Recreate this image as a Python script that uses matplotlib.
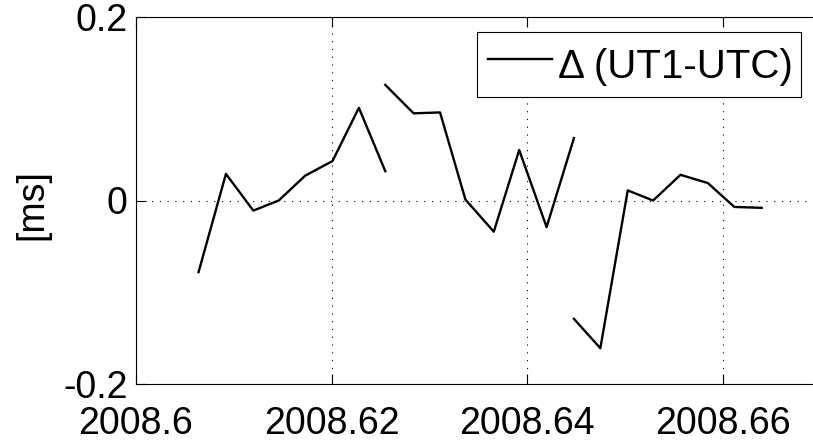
import matplotlib
matplotlib.use("Agg")
import matplotlib.pyplot as plt
from matplotlib.legend_handler import HandlerLine2D

# Data (decimal year, ms), three separate solution segments
seg1_x = [2008.6064, 2008.6092, 2008.6120, 2008.6146, 2008.6173, 2008.6201, 2008.6228, 2008.6255]
seg1_y = [-0.078, 0.029, -0.011, 0.000, 0.027, 0.043, 0.101, 0.032]
seg2_x = [2008.6255, 2008.6284, 2008.6311, 2008.6337, 2008.6366, 2008.6392, 2008.6420, 2008.6448]
seg2_y = [0.126, 0.095, 0.096, 0.001, -0.034, 0.055, -0.029, 0.068]
seg3_x = [2008.6448, 2008.6475, 2008.6503, 2008.6529, 2008.6557, 2008.6585, 2008.6612, 2008.6640]
seg3_y = [-0.129, -0.161, 0.011, 0.000, 0.028, 0.019, -0.007, -0.008]

x_ticks = [2008.60, 2008.62, 2008.64, 2008.66]
x_tick_labels = ["2008.6", "2008.62", "2008.64", "2008.66"]
y_ticks = [-0.2, 0.0, 0.2]
y_tick_labels = ["-0.2", "0", "0.2"]
legend_label = "\u0394 (UT1-UTC)"
y_label = "[ms]"

plt.rcParams['font.family'] = ['Liberation Sans', 'DejaVu Sans']

W, H = 813, 445
fig = plt.figure(figsize=(W / 100, H / 100), dpi=100)
ax = fig.add_axes([136 / W, 61 / H, 684.3 / W, 367 / H])

lw = 1.7
line1, = ax.plot(seg1_x, seg1_y, color='black', lw=lw, label=legend_label)
ax.plot(seg2_x, seg2_y, color='black', lw=lw)
ax.plot(seg3_x, seg3_y, color='black', lw=lw)

ax.set_xlim(2008.60, 2008.67)
ax.set_ylim(-0.2, 0.2)
ax.set_xticks(x_ticks)
ax.set_xticklabels(x_tick_labels)
ax.set_yticks(y_ticks)
ax.set_yticklabels(y_tick_labels)

fs = 27
ax.tick_params(axis='both', direction='in', length=7, width=0.8, labelsize=fs,
               top=True, right=False, color='black')
ax.tick_params(axis='x', pad=16)
ax.tick_params(axis='y', pad=6)
for s in ax.spines.values():
    s.set_linewidth(0.8)
    s.set_color('black')
ax.spines['right'].set_visible(False)

ax.grid(True, color='black', linestyle=(0, (1, 6)), linewidth=0.8)

fig.text(32 / W, 1 - 205 / H, y_label, rotation=90, ha='center', va='center', fontsize=fs)

leg_fs = 29
leg = ax.legend(handles=[line1], loc='upper left',
                bbox_to_anchor=(477 / W, 1 - 32 / H), bbox_transform=fig.transFigure,
                borderaxespad=0, fontsize=leg_fs, fancybox=False, framealpha=1,
                edgecolor='black', borderpad=0.2, handlelength=1.74,
                handletextpad=0.08, handleheight=1.5, numpoints=2,
                handler_map={line1: HandlerLine2D(marker_pad=0.075, numpoints=2)})
leg.get_frame().set_linewidth(0.8)

fig.savefig("out.png", dpi=100)
